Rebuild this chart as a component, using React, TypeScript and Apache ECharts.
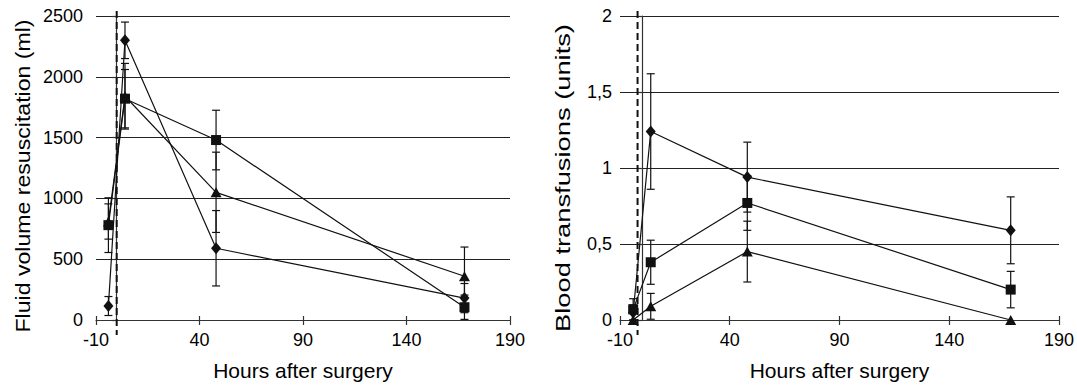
import React, { useEffect, useRef } from "react";
import * as echarts from "echarts";

// Hours after surgery for each measurement
const hours = [-4, 4, 48, 168];

// Fluid volume resuscitation (ml): mean and error (±)
const fluidDiamond = [115, 2300, 590, 180];
const fluidDiamondErr = [78, 150, 310, 120];
const fluidSquare = [780, 1820, 1480, 105];
const fluidSquareErr = [225, 240, 245, 100];
const fluidTriangle = [810, 1840, 1050, 360];
const fluidTriangleErr = [145, 270, 330, 240];

// Blood transfusions (units): mean and error (±)
const bloodDiamond = [0.05, 1.24, 0.94, 0.59];
const bloodDiamondErr = [0.05, 0.38, 0.23, 0.22];
const bloodSquare = [0.07, 0.38, 0.77, 0.2];
const bloodSquareErr = [0.07, 0.145, 0.18, 0.12];
const bloodTriangle = [0, 0.09, 0.45, 0];
const bloodTriangleErr = [0, 0.085, 0.2, 0];

// x ticks and reference (surgery) line positions
const xMin = -10;
const xMax = 190;
const xStep = 50;
const fluidYTicks = { min: 0, max: 2500, step: 500 };
const bloodYTicks = { min: 0, max: 2, step: 0.5 };
const surgeryLineLeft = 0;
const surgeryLineRight = -2;

const xTitle = "Hours after surgery";
const fluidTitle = "Fluid volume resuscitation (ml)";
const bloodTitle = "Blood transfusions (units)";

const FONT = "'Liberation Sans', Arial, sans-serif";

function pts(vals: number[]) {
  return hours.map((h, i) => [h, vals[i]]);
}
function errs(vals: number[], e: number[]) {
  return hours.map((h, i) => [h, vals[i], e[i]]);
}

const errorRender = (params: any, api: any) => {
  const x = api.value(0);
  const y = api.value(1);
  const e = api.value(2);
  if (!e) return null;
  const top = api.coord([x, y + e]);
  const bot = api.coord([x, y - e]);
  const cw = 4;
  const style = { stroke: "#111", lineWidth: 1.2 };
  return {
    type: "group",
    children: [
      { type: "line", shape: { x1: top[0], y1: top[1], x2: bot[0], y2: bot[1] }, style },
      { type: "line", shape: { x1: top[0] - cw, y1: top[1], x2: top[0] + cw, y2: top[1] }, style },
      { type: "line", shape: { x1: bot[0] - cw, y1: bot[1], x2: bot[0] + cw, y2: bot[1] }, style },
    ],
  };
};

const dashRender = (params: any, api: any) => {
  const cs = params.coordSys;
  const p = api.coord([api.value(0), 0]);
  return {
    type: "line",
    shape: { x1: p[0], y1: cs.y - 5, x2: p[0], y2: cs.y + cs.height + 15 },
    style: { stroke: "#111", lineWidth: 2, lineDash: [7, 4] },
  };
};

export default function App() {
  const ref = useRef<HTMLDivElement>(null);
  useEffect(() => {
    if (!ref.current) return;
    const chart = echarts.init(ref.current, undefined, { renderer: "svg" });

    const xAxisBase = (gridIndex: number) => ({
      type: "value",
      gridIndex,
      min: xMin,
      max: xMax,
      interval: xStep,
      name: xTitle,
      nameLocation: "middle",
      nameGap: 40,
      nameTextStyle: { fontSize: 21, color: "#000", fontFamily: FONT },
      axisLine: { show: true, lineStyle: { color: "#333", width: 1.2 } },
      axisTick: { show: true, length: 5, lineStyle: { color: "#333", width: 1.2 } },
      axisLabel: { fontSize: 18, color: "#000", fontFamily: FONT, margin: 11 },
      splitLine: { show: false },
    });
    const xAxisInnerTicks = (gridIndex: number) => ({
      type: "value",
      gridIndex,
      min: xMin,
      max: xMax,
      interval: xStep,
      position: "bottom",
      axisLine: { show: false },
      axisTick: { show: true, inside: true, length: 4, lineStyle: { color: "#333", width: 1.2 } },
      axisLabel: { show: false },
      splitLine: { show: false },
    });

    const lineSeries = (name: string, data: number[], symbol: string, size: any, xi: number, yi: number) => ({
      type: "line",
      name,
      data: pts(data),
      xAxisIndex: xi,
      yAxisIndex: yi,
      symbol,
      symbolSize: size,
      showSymbol: true,
      lineStyle: { color: "#111", width: 1.2 },
      itemStyle: { color: "#111" },
      z: 4,
    });
    const errSeries = (vals: number[], e: number[], xi: number, yi: number) => ({
      type: "custom",
      data: errs(vals, e),
      xAxisIndex: xi,
      yAxisIndex: yi,
      renderItem: errorRender,
      encode: { x: 0, y: 1 },
      clip: false,
      z: 3,
    });

    chart.setOption({
      animation: false,
      backgroundColor: "#fff",
      grid: [
        { left: 96, right: 1077 - 510, top: 16, bottom: 386 - 325 },
        { left: 620, right: 1077 - 1062, top: 16, bottom: 386 - 325 },
      ],
      graphic: [
        {
          type: "text",
          x: 23,
          y: 176,
          rotation: Math.PI / 2,
          scaleX: 1.1,
          style: {
            text: fluidTitle,
            fontSize: 21,
            fontFamily: FONT,
            fill: "#000",
            align: "center",
            verticalAlign: "middle",
          },
        },
        {
          type: "text",
          x: 563,
          y: 178,
          rotation: Math.PI / 2,
          scaleX: 1.3,
          style: {
            text: bloodTitle,
            fontSize: 21,
            fontFamily: FONT,
            fill: "#000",
            align: "center",
            verticalAlign: "middle",
          },
        },
      ],
      xAxis: [xAxisBase(0), xAxisBase(1), xAxisInnerTicks(0), xAxisInnerTicks(1)],
      yAxis: [
        {
          type: "value",
          gridIndex: 0,
          min: fluidYTicks.min,
          max: fluidYTicks.max,
          interval: fluidYTicks.step,
          axisLine: { show: true, lineStyle: { color: "#333", width: 1.2 } },
          axisTick: { show: true, length: 5, lineStyle: { color: "#333", width: 1.2 } },
          axisLabel: {
            fontSize: 18,
            color: "#000",
            fontFamily: FONT,
            margin: 13,
            formatter: (v: number) => String(v),
          },
          splitLine: { show: true, lineStyle: { color: "#222", width: 1.2 } },
        },
        {
          type: "value",
          gridIndex: 1,
          min: bloodYTicks.min,
          max: bloodYTicks.max,
          interval: bloodYTicks.step,
          axisLine: { show: true, lineStyle: { color: "#333", width: 1.2 } },
          axisTick: { show: true, length: 5, lineStyle: { color: "#333", width: 1.2 } },
          axisLabel: {
            fontSize: 18,
            color: "#000",
            fontFamily: FONT,
            margin: 8,
            formatter: (v: number) => String(v).replace(".", ","),
          },
          splitLine: { show: true, lineStyle: { color: "#222", width: 1.2 } },
        },
      ],
      series: [
        {
          type: "custom",
          data: [[surgeryLineLeft]],
          xAxisIndex: 0,
          yAxisIndex: 0,
          renderItem: dashRender,
          encode: { x: 0 },
          clip: false,
          z: 2,
        },
        {
          type: "custom",
          data: [[surgeryLineRight]],
          xAxisIndex: 1,
          yAxisIndex: 1,
          renderItem: dashRender,
          encode: { x: 0 },
          clip: false,
          z: 2,
        },
        errSeries(fluidDiamond, fluidDiamondErr, 0, 0),
        errSeries(fluidSquare, fluidSquareErr, 0, 0),
        errSeries(fluidTriangle, fluidTriangleErr, 0, 0),
        lineSeries("fd", fluidDiamond, "diamond", [10, 12], 0, 0),
        lineSeries("fs", fluidSquare, "rect", 10, 0, 0),
        lineSeries("ft", fluidTriangle, "triangle", [11, 10], 0, 0),
        errSeries(bloodDiamond, bloodDiamondErr, 1, 1),
        errSeries(bloodSquare, bloodSquareErr, 1, 1),
        errSeries(bloodTriangle, bloodTriangleErr, 1, 1),
        lineSeries("bd", bloodDiamond, "diamond", [10, 12], 1, 1),
        lineSeries("bs", bloodSquare, "rect", 10, 1, 1),
        lineSeries("bt", bloodTriangle, "triangle", [11, 10], 1, 1),
      ],
    });
    return () => chart.dispose();
  }, []);
  return (
    <div
      ref={ref}
      style={{ position: "absolute", left: 0, top: 0, width: 1077, height: 386, background: "#fff" }}
    />
  );
}
